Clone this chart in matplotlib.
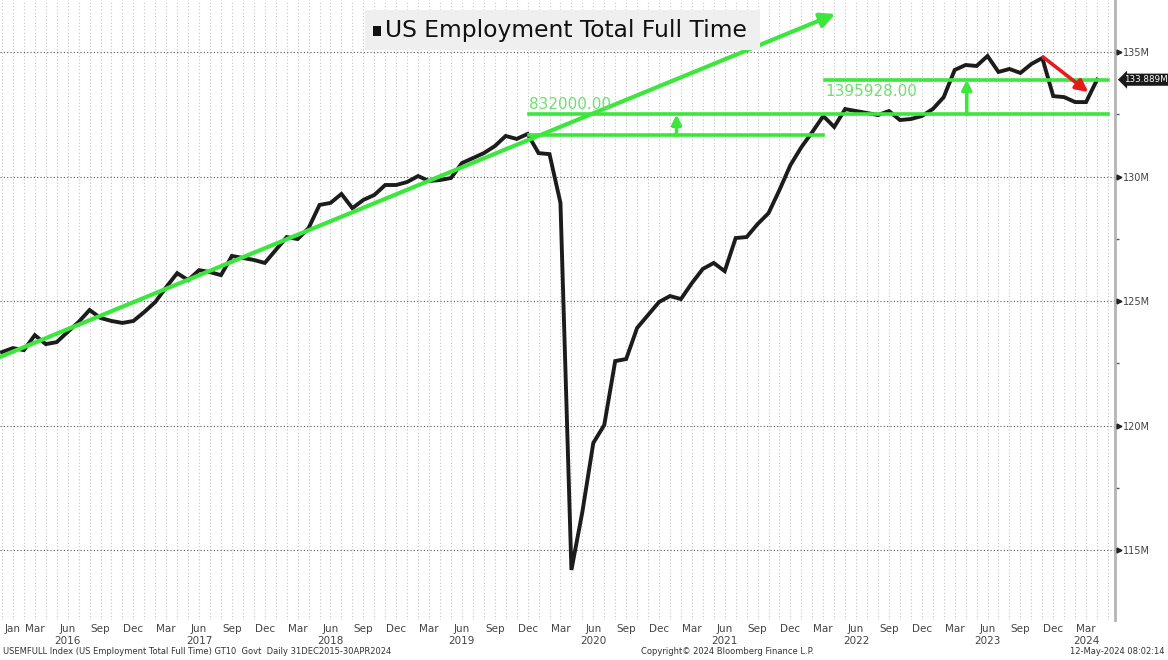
import numpy as np
import matplotlib
matplotlib.use("Agg")
import matplotlib.pyplot as plt
import matplotlib.transforms as mtransforms
from matplotlib.patches import Rectangle
import pandas as pd

# ---------------- data ----------------
start_month = "2015-12"
values = [
    122.95, 123.11, 123.03, 123.63, 123.27, 123.35, 123.76, 124.16, 124.64, 124.32,
    124.20, 124.12, 124.20, 124.56, 124.96, 125.56, 126.12, 125.84, 126.24, 126.16,
    126.04, 126.81, 126.73, 126.65, 126.53, 127.05, 127.57, 127.49, 127.93, 128.86,
    128.94, 129.30, 128.73, 129.06, 129.26, 129.66, 129.66, 129.78, 130.02, 129.82,
    129.86, 129.94, 130.54, 130.74, 130.94, 131.22, 131.63, 131.51, 131.71, 130.94,
    130.90, 128.94, 114.20, 116.53, 119.30, 120.02, 122.59, 122.67, 123.92, 124.44,
    124.96, 125.20, 125.08, 125.72, 126.29, 126.53, 126.20, 127.53, 127.57, 128.09,
    128.53, 129.46, 130.46, 131.18, 131.79, 132.43, 131.99, 132.71, 132.63, 132.55,
    132.47, 132.63, 132.27, 132.31, 132.43, 132.71, 133.19, 134.28, 134.48, 134.44,
    134.84, 134.20, 134.32, 134.16, 134.52, 134.76, 133.23, 133.19, 132.99, 132.99,
    133.889,
]
last_value = 133.889
diff_upper = 1.395928          # 1395928.00
diff_lower = 0.832             # 832000.00
level_top = last_value
level_mid = level_top - diff_upper
level_low = level_mid - diff_lower

# trend arrow endpoints (month index, value)
trend_start = (-0.2, 122.75)
trend_end = (76.1, 136.53)
# red arrow endpoints
red_start = (95.07, 134.80)
red_end = (99.2, 133.39)

y_ticks = [115, 120, 125, 130, 135]
y_minor = [117.5, 122.5, 127.5, 132.5]
title = "US Employment Total Full Time"
footer_left = "USEMFULL Index (US Employment Total Full Time) GT10  Govt  Daily 31DEC2015-30APR2024"
footer_mid = "Copyright\u00a9 2024 Bloomberg Finance L.P."
footer_right = "12-May-2024 08:02:14"

months = pd.period_range(start_month, periods=len(values), freq="M")
x = np.arange(len(values))

# tick labels
tick_pos, tick_lab = [], []
for i, p in enumerate(months):
    if p.year < 2016:
        continue
    if p.month in (3, 6, 9, 12) or (p.year == 2016 and p.month == 1):
        lab = p.strftime("%b")
        if p.month == 6 or (p.year == 2024 and p.month == 3):
            lab += "\n" + str(p.year)
        tick_pos.append(i)
        tick_lab.append(lab)

# ---------------- figure ----------------
W, H = 1168, 660
fig = plt.figure(figsize=(W / 100, H / 100), dpi=100)
fig.patch.set_facecolor("white")
ax = fig.add_axes([0, 40 / H, 1115 / W, 620 / H])
ax.set_xlim(-0.18, 101.64)
ax.set_ylim(112.19, 137.09)

GREEN = "#3de63d"
GREEN_TXT = "#6ee06e"
RED = "#e51b1b"

# grids
for i in x:
    ax.axvline(i, color="#c4c4c4", lw=0.8, ls=(0, (1, 2)), zorder=0)
ax.axvline(101, color="#c4c4c4", lw=0.8, ls=(0, (1, 2)), zorder=0)
for v in y_ticks:
    ax.axhline(v, color="#555555", lw=0.8, ls=(0, (1, 2)), zorder=0)

# main series
ax.plot(x, values, color="#1c1c1c", lw=2.8, solid_joinstyle="miter", zorder=3)

# green trend arrow
ax.annotate("", xy=trend_end, xytext=trend_start,
            arrowprops=dict(arrowstyle="-|>", color=GREEN, lw=3.0,
                            mutation_scale=22, shrinkA=0, shrinkB=0), zorder=4)

# level lines
ax.plot([48.1, 75.0], [level_low, level_low], color=GREEN, lw=2.6, zorder=4)
ax.plot([48.1, 101.0], [level_mid, level_mid], color=GREEN, lw=2.6, zorder=4)
ax.plot([75.2, 101.0], [level_top, level_top], color=GREEN, lw=2.6, zorder=4)
for xi, y0, y1 in [(61.6, level_low, level_mid), (88.1, level_mid, level_top)]:
    ax.annotate("", xy=(xi, y1), xytext=(xi, y0),
                arrowprops=dict(arrowstyle="-|>", color=GREEN, lw=2.6,
                                mutation_scale=14, shrinkA=0, shrinkB=0), zorder=4)
ax.annotate(f"{diff_lower * 1e6:.2f}", xy=(48.1, level_mid), xytext=(0, 2),
            textcoords="offset points", ha="left", va="bottom",
            color=GREEN_TXT, fontsize=11, zorder=5)
ax.annotate(f"{diff_upper * 1e6:.2f}", xy=(75.2, level_top), xytext=(0, -3),
            textcoords="offset points", ha="left", va="top",
            color=GREEN_TXT, fontsize=11, zorder=5)

# red arrow
ax.annotate("", xy=red_end, xytext=red_start,
            arrowprops=dict(arrowstyle="-|>", color=RED, lw=2.6,
                            mutation_scale=18, shrinkA=0, shrinkB=0), zorder=5)

# axes styling
for s in ("top", "left", "bottom"):
    ax.spines[s].set_visible(False)
ax.spines["right"].set_color("#b4b4b4")
ax.spines["right"].set_linewidth(2)
ax.yaxis.tick_right()
ax.set_yticks(y_ticks)
ax.set_yticklabels([f"{v}M" for v in y_ticks], fontsize=7, color="#444444")
ax.set_yticks(y_minor, minor=True)
ax.tick_params(axis="y", which="major", length=0, pad=6)
ax.tick_params(axis="y", which="minor", length=3, width=1, color="#555555", direction="out")
btr = mtransforms.blended_transform_factory(ax.transAxes, ax.transData)
ax.plot([1.0035] * len(y_ticks), y_ticks, marker=">", ms=3.5, ls="none",
        color="#222222", transform=btr, clip_on=False, zorder=6)

ax.set_xticks(tick_pos)
ax.set_xticklabels(tick_lab, fontsize=7.5, color="#444444", linespacing=1.25)
ax.tick_params(axis="x", length=0, pad=3)

# last value label
ax.text(1.0085, last_value, f"{last_value:.3f}M", transform=btr, ha="left", va="center",
        fontsize=6.3, color="white", zorder=7, clip_on=False,
        bbox=dict(boxstyle="larrow,pad=0.18", fc="#1a1a1a", ec="none"))

# title box
fig.patches.append(Rectangle((365 / W, 1 - 50 / H), 395 / W, 40 / H, transform=fig.transFigure,
                             fc="#efefef", ec="none", zorder=2))
fig.patches.append(Rectangle((373 / W, 1 - 36 / H), 8 / W, 10 / H, transform=fig.transFigure,
                             fc="#111111", ec="none", zorder=3))
fig.text(385 / W, 1 - 30 / H, title, fontsize=16.8, color="#111111",
         ha="left", va="center", zorder=4)

# footer
fig.text(3 / W, 1 - 652 / H, footer_left, fontsize=6, color="#333333", ha="left", va="center")
fig.text(728 / W, 1 - 652 / H, footer_mid, fontsize=6, color="#333333", ha="center", va="center")
fig.text(1165 / W, 1 - 652 / H, footer_right, fontsize=6, color="#333333", ha="right", va="center")

fig.savefig("out.png", dpi=100, facecolor="white")
